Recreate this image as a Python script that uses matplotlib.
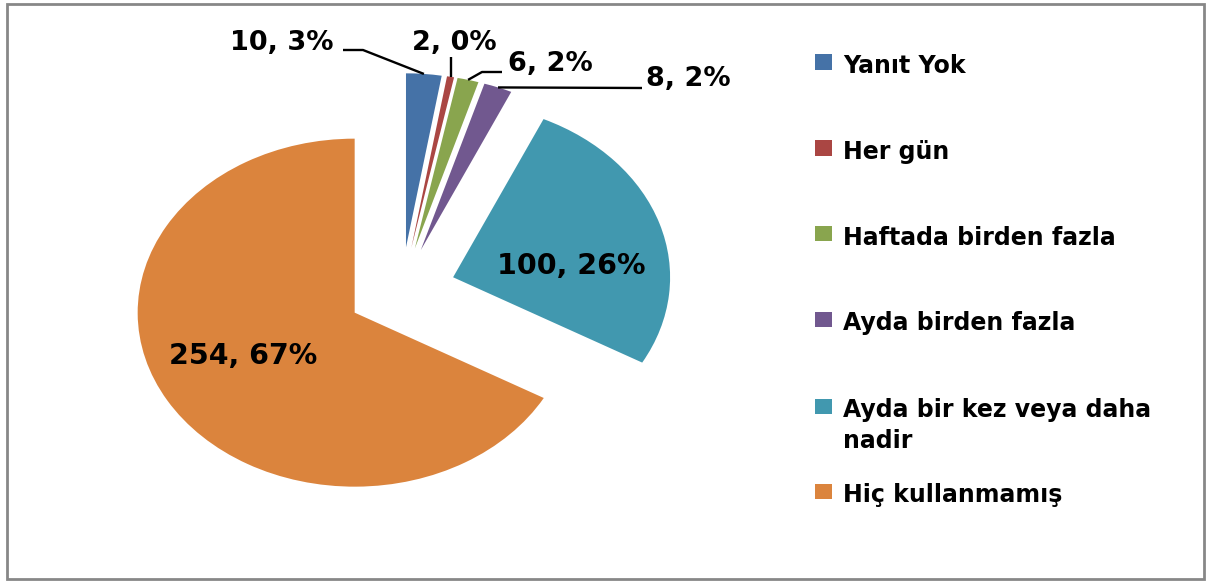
import matplotlib
matplotlib.use("Agg")
import matplotlib.pyplot as plt
from matplotlib.patches import Rectangle
import numpy as np

# ---- data ----
categories = ["Yanıt Yok", "Her gün", "Haftada birden fazla", "Ayda birden fazla",
              "Ayda bir kez veya daha\nnadir", "Hiç kullanmamış"]
counts = [10, 2, 6, 8, 100, 254]
percents = [3, 0, 2, 2, 26, 67]
colors = ["#4572A7", "#AA4643", "#89A54E", "#71588F", "#4198AF", "#DB843D"]

# ---- layout (pixels) ----
W, H = 1206, 581
CX, CY = 401.5, 290.7      # pie centre in pixels
RX, RY = 217.0, 174.0      # pie radius (horizontal / vertical) in pixels
EXPLODE = 0.25

fig = plt.figure(figsize=(W / 100, H / 100), dpi=100)
fig.patch.set_facecolor("white")
ax = fig.add_axes([0, 0, 1, 1])

wedges, _ = ax.pie(counts, colors=colors, startangle=90, counterclock=False,
                   explode=[EXPLODE] * len(counts), radius=1.0,
                   wedgeprops=dict(linewidth=0, antialiased=True))
ax.set_aspect("auto")
ax.set_xlim(-CX / RX, (W - CX) / RX)
ax.set_ylim((CY - H) / RY, CY / RY)
ax.axis("off")


def p2d(px, py):
    return ((px - CX) / RX, (CY - py) / RY)


labels = [f"{c}, {p}%" for c, p in zip(counts, percents)]
label_pos = [(281.5, 43.5), (454.5, 43.5), (550, 64), (688, 79), (571, 266.5), (243, 356)]
label_size = [19.5, 19.5, 19.5, 19.5, 20.5, 20.5]

for lab, (px, py), fs in zip(labels, label_pos, label_size):
    x, y = p2d(px, py)
    ax.text(x, y, lab, ha="center", va="center", fontsize=fs, fontweight="bold",
            color="black", family="DejaVu Sans")

# leader lines for the small outer labels: anchor on wedge outer arc at mid-angle
def anchor(i):
    w = wedges[i]
    mid = np.deg2rad((w.theta1 + w.theta2) / 2)
    return (w.center[0] + np.cos(mid), w.center[1] + np.sin(mid))

leader_starts = {
    0: [(343, 50), (363, 50)],
    1: [(None, 57)],
    2: [(502, 72), (482, 72)],
    3: [(642, 88)],
}
for i, pts in leader_starts.items():
    ax_, ay_ = anchor(i)
    xs, ys = [], []
    for (px, py) in pts:
        if px is None:
            xs.append(ax_)
            ys.append((CY - py) / RY)
        else:
            x, y = p2d(px, py)
            xs.append(x)
            ys.append(y)
    xs.append(ax_)
    ys.append(ay_)
    ax.plot(xs, ys, color="black", lw=1.7, solid_capstyle="butt")

# ---- legend (manual, Excel-like) ----
leg_sq_x, leg_sq_w, leg_sq_h = 815, 17, 15
leg_text_x = 843
leg_baselines = [73, 159, 245, 330, 417, 502]
line_gap = 31
for cat, col, base in zip(categories, colors, leg_baselines):
    sq_cy = base - 11
    fig.add_artist(Rectangle((leg_sq_x / W, (H - sq_cy - leg_sq_h / 2) / H),
                             leg_sq_w / W, leg_sq_h / H, transform=fig.transFigure,
                             facecolor=col, edgecolor="none"))
    for k, line in enumerate(cat.split("\n")):
        fig.text(leg_text_x / W, (H - (base + k * line_gap)) / H, line,
                 ha="left", va="baseline", fontsize=17, fontweight="bold",
                 color="black", family="DejaVu Sans")

# ---- outer border ----
fig.add_artist(Rectangle((7 / W, 2 / H), (1204 - 7) / W, (579 - 4) / H,
                         transform=fig.transFigure, facecolor="none",
                         edgecolor="#878787", linewidth=2.0))

fig.savefig("out.png", dpi=100, facecolor="white")
